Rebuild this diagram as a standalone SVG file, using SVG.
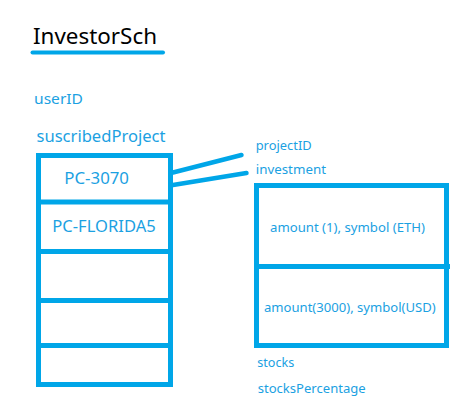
<svg xmlns="http://www.w3.org/2000/svg" width="458" height="410" viewBox="0 0 458 410">
<style>
.t{font-family:"Noto Sans","Open Sans","DejaVu Sans",sans-serif;fill:#1ba1e2}
.box{fill:none;stroke:#00a6e8;stroke-width:5}
.ln{stroke:#00a6e8;stroke-width:5;fill:none}
.con{stroke:#00a6e8;stroke-width:4.5;stroke-linecap:round;fill:none}
</style>
<rect width="458" height="410" fill="#ffffff"/>
<g id="title">
<text x="33" y="44.3" class="t" style="fill:#000;font-size:22px" textLength="124" lengthAdjust="spacingAndGlyphs">InvestorSch</text>
<line x1="32.5" y1="52.5" x2="163" y2="52.5" stroke="#00a6e8" stroke-width="4" stroke-linecap="round"/>
</g>
<g id="userID"><text x="34" y="104" class="t" style="font-size:15px" textLength="49" lengthAdjust="spacingAndGlyphs">userID</text></g>
<g id="suscribedProject"><text x="36.5" y="142.3" class="t" style="font-size:16px" textLength="129" lengthAdjust="spacingAndGlyphs">suscribedProject</text></g>
<g id="projects">
<rect class="box" x="38.5" y="155.5" width="132" height="229"/>
<line class="ln" x1="38.5" y1="202" x2="170.5" y2="202"/>
<line class="ln" x1="38.5" y1="251.5" x2="170.5" y2="251.5"/>
<line class="ln" x1="38.5" y1="300.5" x2="170.5" y2="300.5"/>
<line class="ln" x1="38.5" y1="345.5" x2="170.5" y2="345.5"/>
<text x="64.3" y="184" class="t" style="font-size:16px" textLength="64.7" lengthAdjust="spacingAndGlyphs">PC-3070</text>
<text x="52.3" y="232" class="t" style="font-size:16px" textLength="103.4" lengthAdjust="spacingAndGlyphs">PC-FLORIDA5</text>
</g>
<g id="connectors">
<line class="con" x1="173" y1="172.5" x2="241.5" y2="155"/>
<line class="con" x1="173" y1="185" x2="246.5" y2="173"/>
</g>
<g id="projectID"><text x="255.7" y="150" class="t" style="font-size:12px" textLength="56" lengthAdjust="spacingAndGlyphs">projectID</text></g>
<g id="investment"><text x="255.7" y="174.3" class="t" style="font-size:12px" textLength="70.3" lengthAdjust="spacingAndGlyphs">investment</text></g>
<g id="investments">
<rect class="box" x="256.5" y="185.5" width="190" height="160"/>
<line class="ln" x1="256.5" y1="266.5" x2="450" y2="266.5"/>
<text x="270" y="232.3" class="t" style="font-size:12px" textLength="155" lengthAdjust="spacingAndGlyphs">amount (1), symbol (ETH)</text>
<text x="264" y="311.7" class="t" style="font-size:12px" textLength="171.7" lengthAdjust="spacingAndGlyphs">amount(3000), symbol(USD)</text>
</g>
<g id="stocks"><text x="257.3" y="366.7" class="t" style="font-size:12px" textLength="37" lengthAdjust="spacingAndGlyphs">stocks</text></g>
<g id="stocksPercentage"><text x="257.7" y="393.3" class="t" style="font-size:12px" textLength="108" lengthAdjust="spacingAndGlyphs">stocksPercentage</text></g>
</svg>
